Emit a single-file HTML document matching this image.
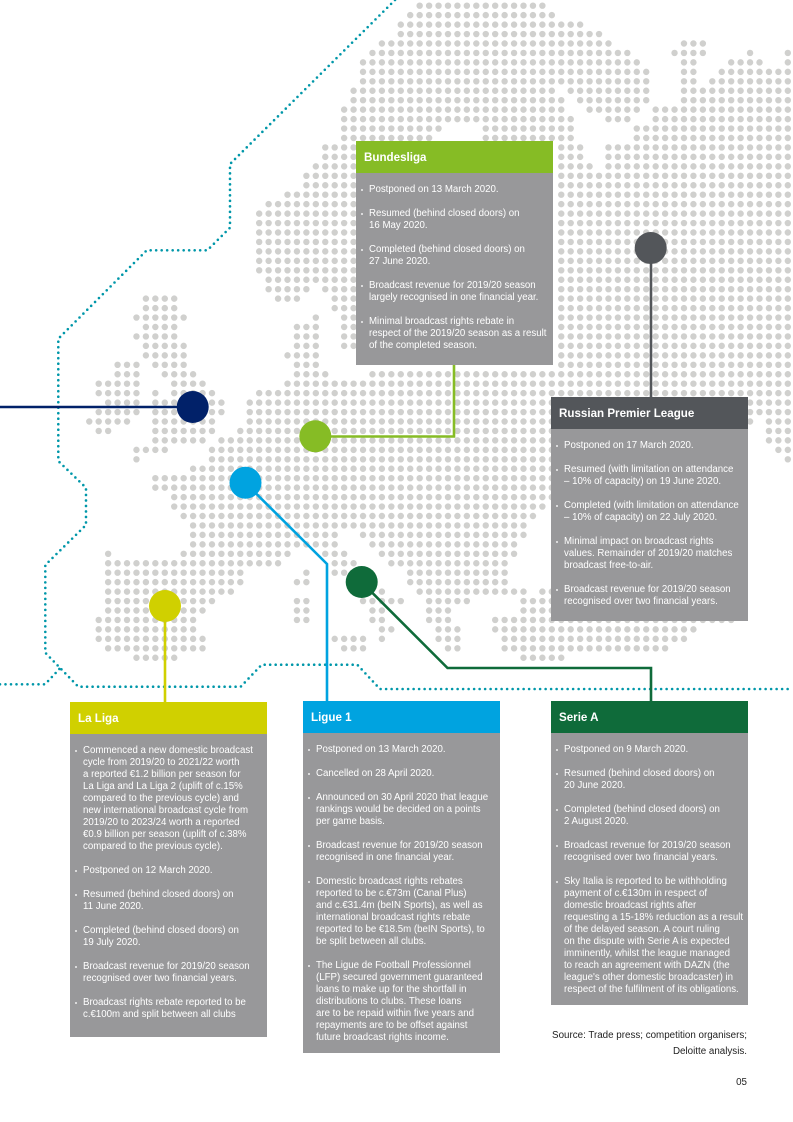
<!DOCTYPE html>
<html lang="en">
<head>
<meta charset="utf-8">
<title>Football leagues across Europe</title>
<style>
html,body{margin:0;padding:0;background:#fff}
#page{position:relative;width:793px;height:1122px;overflow:hidden;background:#fff;font-family:"Liberation Sans",Arial,sans-serif}
svg{position:absolute;left:0;top:0}
.box{position:absolute;width:197px;background:#98989a;color:#fff;font-size:9.68px;line-height:12px;white-space:nowrap}
.box h2{margin:0;height:32px;line-height:34px;padding-left:8px;font-size:11.6px;font-weight:bold;color:#fff}
.box .b{padding:10.5px 0 0 13px}
.box p{position:relative;margin:0 0 12px}
.box p:before{content:"";position:absolute;left:-8px;top:5px;width:2.4px;height:2.4px;border-radius:50%;background:#fff;opacity:.85}
.src{position:absolute;right:46px;color:#222;font-size:9.8px;line-height:16px;text-align:right;white-space:nowrap}
</style>
</head>
<body>
<div id="page">
<svg width="793" height="1122" viewBox="0 0 793 1122">
<g transform="translate(4.3 5.7) scale(9.44 9.45)">
<path fill="none" stroke="#d0d0ce" stroke-width=".68" stroke-linecap="round" stroke-dasharray="0 1" d="
M44 0H57.1M43 1H58.1M42 2H61.1M42 3H63.1
M40 4H64.1M72 4H74.1
M39 5H66.1M71 5H74.1M79 5H79.1M83 5H83.1
M38 6H67.1M72 6H73.1M77 6H80.1M83 6H83.1
M38 7H68.1M72 7H73.1M76 7H83.1
M38 8H68.1M72 8H73.1M75 8H83.1
M37 9H58.1M60 9H68.1M72 9H83.1
M37 10H59.1M61 10H68.1M72 10H83.1
M36 11H59.1M62 11H67.1M69 11H83.1
M36 12H60.1M64 12H66.1M69 12H83.1
M36 13H46.1M51 13H60.1M67 13H83.1
M36 14H45.1M51 14H60.1M67 14H83.1
M34 15H37.1M59 15H61.1M64 15H83.1
M34 16H37.1M59 16H61.1M64 16H83.1
M33 17H37.1M59 17H62.1M64 17H83.1
M32 18H37.1M59 18H83.1
M32 19H37.1M59 19H83.1
M30 20H37.1M59 20H83.1
M28 21H37.1M59 21H83.1
M27 22H37.1M59 22H83.1
M27 23H37.1M59 23H83.1
M27 24H37.1M59 24H83.1
M27 25H37.1M59 25H83.1
M27 26H37.1M59 26H83.1
M27 27H37.1M59 27H83.1
M27 28H37.1M59 28H83.1
M28 29H37.1M59 29H83.1
M28 30H32.1M34 30H37.1M59 30H83.1
M15 31H18.1M29 31H31.1M35 31H37.1M59 31H83.1
M15 32H18.1M35 32H37.1M59 32H83.1
M14 33H19.1M33 33H33.1M36 33H37.1M59 33H83.1
M15 34H18.1M31 34H33.1M36 34H37.1M59 34H83.1
M14 35H18.1M31 35H33.1M36 35H37.1M59 35H83.1
M15 36H19.1M31 36H33.1M36 36H37.1M59 36H83.1
M15 37H19.1M30 37H33.1M59 37H83.1
M12 38H14.1M16 38H19.1M31 38H33.1M59 38H83.1
M12 39H14.1M17 39H20.1M31 39H34.1M39 39H83.1
M10 40H14.1M18 40H21.1M30 40H83.1
M10 41H14.1M16 41H16.1M18 41H22.1M27 41H83.1
M11 42H14.1M16 42H23.1M26 42H83.1
M10 43H14.1M16 43H23.1M26 43H83.1
M9 44H13.1M16 44H22.1M26 44H79.1M81 44H83.1
M10 45H11.1M16 45H22.1M25 45H58.1M81 45H83.1
M16 46H21.1M23 46H58.1M81 46H83.1
M14 47H17.1M22 47H58.1M82 47H83.1
M14 48H14.1M22 48H58.1M83 48H83.1
M20 49H58.1
M16 50H58.1
M16 51H58.1
M18 52H58.1
M18 53H57.1
M19 54H56.1
M20 55H55.1
M20 56H35.1M38 56H55.1
M20 57H35.1M39 57H54.1
M11 58H11.1M19 58H30.1M34 58H36.1M40 58H54.1
M11 59H29.1M35 59H37.1M41 59H53.1
M11 60H25.1M32 60H32.1M35 60H36.1M43 60H53.1
M11 61H25.1M31 61H32.1M43 61H53.1
M11 62H24.1M40 62H40.1M44 62H55.1M57 62H58.1
M11 63H22.1M31 63H32.1M38 63H42.1M45 63H49.1M55 63H58.1
M11 64H21.1M31 64H32.1M39 64H40.1M45 64H47.1M55 64H58.1
M10 65H20.1M31 65H32.1M39 65H40.1M45 65H47.1M52 65H77.1
M10 66H20.1M40 66H41.1M46 66H48.1M52 66H73.1
M10 67H21.1M35 67H38.1M40 67H40.1M46 67H48.1M53 67H72.1
M11 68H21.1M36 68H38.1M47 68H48.1M53 68H70.1
M14 69H18.1M55 69H59.1"/>
</g>
<g fill="none" stroke="#0097a9" stroke-width="2.6" stroke-linecap="round" stroke-dasharray="0 5.5">
<path d="M395 0L230 164V227.7L207.3 250.3H146.7L58.3 338.7V461L86 487.7V525L45.3 565V652.7L78.3 686.7H240.7L261.7 664.7H357.3L380 689H793"/>
<path d="M0 684.3H45L60 668.3"/>
</g>
<g fill="none" stroke-width="2.6">
<path d="M0 407H193" stroke="#012169"/>
<path d="M315 436.5H454V365" stroke="#86bc25"/>
<path d="M245.5 483L327 564V702" stroke="#00a3e0"/>
<path d="M361.5 582L447.5 668H651V702" stroke="#0f6b3a"/>
<path d="M165 606V702" stroke="#d0d000"/>
<path d="M651 248V397" stroke="#53565a"/>
</g>
<circle cx="192.7" cy="407" r="16" fill="#012169"/>
<circle cx="315.3" cy="436.3" r="16" fill="#86bc25"/>
<circle cx="245.5" cy="482.7" r="16" fill="#00a3e0"/>
<circle cx="361.7" cy="582" r="16" fill="#0f6b3a"/>
<circle cx="165" cy="606" r="16" fill="#d0d000"/>
<circle cx="650.7" cy="248" r="16" fill="#53565a"/>
</svg>

<div class="box" style="left:356px;top:141px;height:224px">
<h2 style="background:#86bc25">Bundesliga</h2>
<div class="b">
<p>Postponed on 13 March 2020.</p>
<p>Resumed (behind closed doors) on<br>16 May 2020.</p>
<p>Completed (behind closed doors) on<br>27 June 2020.</p>
<p>Broadcast revenue for 2019/20 season<br>largely recognised in one financial year.</p>
<p>Minimal broadcast rights rebate in<br>respect of the 2019/20 season as a result<br>of the completed season.</p>
</div>
</div>

<div class="box" style="left:551px;top:397px;height:224px">
<h2 style="background:#53565a">Russian Premier League</h2>
<div class="b">
<p>Postponed on 17 March 2020.</p>
<p>Resumed (with limitation on attendance<br>– 10% of capacity) on 19 June 2020.</p>
<p>Completed (with limitation on attendance<br>– 10% of capacity) on 22 July 2020.</p>
<p>Minimal impact on broadcast rights<br>values. Remainder of 2019/20 matches<br>broadcast free-to-air.</p>
<p>Broadcast revenue for 2019/20 season<br>recognised over two financial years.</p>
</div>
</div>

<div class="box" style="left:70px;top:702px;height:335px">
<h2 style="background:#d0d000">La Liga</h2>
<div class="b" style="padding-top:11px">
<p>Commenced a new domestic broadcast<br>cycle from 2019/20 to 2021/22 worth<br>a reported €1.2 billion per season for<br>La Liga and La Liga 2 (uplift of c.15%<br>compared to the previous cycle) and<br>new international broadcast cycle from<br>2019/20 to 2023/24 worth a reported<br>€0.9 billion per season (uplift of c.38%<br>compared to the previous cycle).</p>
<p>Postponed on 12 March 2020.</p>
<p>Resumed (behind closed doors) on<br>11 June 2020.</p>
<p>Completed (behind closed doors) on<br>19 July 2020.</p>
<p>Broadcast revenue for 2019/20 season<br>recognised over two financial years.</p>
<p>Broadcast rights rebate reported to be<br>c.€100m and split between all clubs</p>
</div>
</div>

<div class="box" style="left:303px;top:701px;height:352px">
<h2 style="background:#00a3e0">Ligue 1</h2>
<div class="b">
<p>Postponed on 13 March 2020.</p>
<p>Cancelled on 28 April 2020.</p>
<p>Announced on 30 April 2020 that league<br>rankings would be decided on a points<br>per game basis.</p>
<p>Broadcast revenue for 2019/20 season<br>recognised in one financial year.</p>
<p>Domestic broadcast rights rebates<br>reported to be c.€73m (Canal Plus)<br>and c.€31.4m (beIN Sports), as well as<br>international broadcast rights rebate<br>reported to be €18.5m (beIN Sports), to<br>be split between all clubs.</p>
<p>The Ligue de Football Professionnel<br>(LFP) secured government guaranteed<br>loans to make up for the shortfall in<br>distributions to clubs. These loans<br>are to be repaid within five years and<br>repayments are to be offset against<br>future broadcast rights income.</p>
</div>
</div>

<div class="box" style="left:551px;top:701px;height:304px">
<h2 style="background:#0f6b3a">Serie A</h2>
<div class="b">
<p>Postponed on 9 March 2020.</p>
<p>Resumed (behind closed doors) on<br>20 June 2020.</p>
<p>Completed (behind closed doors) on<br>2 August 2020.</p>
<p>Broadcast revenue for 2019/20 season<br>recognised over two financial years.</p>
<p>Sky Italia is reported to be withholding<br>payment of c.€130m in respect of<br>domestic broadcast rights after<br>requesting a 15-18% reduction as a result<br>of the delayed season. A court ruling<br>on the dispute with Serie A is expected<br>imminently, whilst the league managed<br>to reach an agreement with DAZN (the<br>league's other domestic broadcaster) in<br>respect of the fulfilment of its obligations.</p>
</div>
</div>

<div class="src" style="top:1028px">Source: Trade press; competition organisers;<br>Deloitte analysis.</div>
<div class="src" style="top:1075px">05</div>
</div>
</body>
</html>
